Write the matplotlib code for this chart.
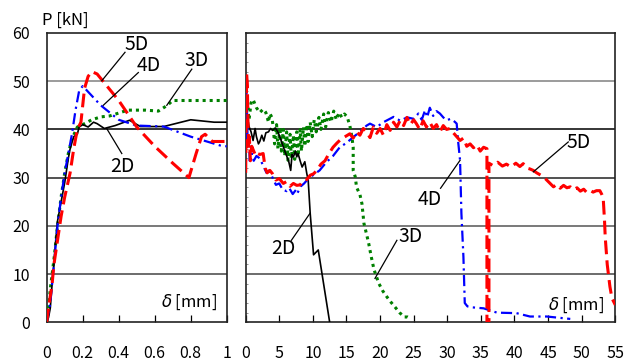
import numpy as np
import matplotlib.pyplot as plt
from matplotlib.ticker import MultipleLocator

plt.rcParams["font.family"] = ["Noto Sans CJK JP", "DejaVu Sans"]

################################################################################
# Data
################################################################################

# Left panel: initial part, delta 0 - 1 mm
x_2d_l = [0, 0.01, 0.02, 0.03, 0.04, 0.05, 0.06, 0.08, 0.10, 0.12, 0.13, 0.15, 0.17, 0.18, 0.20,
          0.23, 0.26, 0.28, 0.32, 0.38, 0.46, 0.52, 0.65, 0.80, 0.93, 1.0]
y_2d_l = [0, 1, 3, 8, 12, 17, 21, 25, 29, 34, 36, 38.5, 39, 40.5, 41,
          40.5, 41.5, 41.2, 40.2, 40.8, 41.9, 40.6, 40.6, 42, 41.5, 41.5]

x_3d_l = [0, 0.01, 0.02, 0.04, 0.06, 0.08, 0.10, 0.12, 0.14, 0.17, 0.20, 0.25, 0.30, 0.35,
          0.45, 0.55, 0.62, 0.67, 0.70, 1.0]
y_3d_l = [0, 3, 7, 13, 20, 26, 31, 35, 38, 40.5, 41, 42, 42.6, 42.8,
          44, 44, 43.8, 45, 46, 46]

x_4d_l = [0, 0.02, 0.04, 0.06, 0.08, 0.10, 0.12, 0.14, 0.16, 0.18, 0.20, 0.25, 0.30, 0.40,
          0.50, 0.65, 0.80, 0.97, 1.0]
y_4d_l = [0, 4, 12, 20, 26, 31, 35, 39, 44, 48, 49, 47, 45, 42,
          40.8, 40.6, 38.5, 36.6, 36.5]

x_5d_l = [0, 0.01, 0.03, 0.04, 0.06, 0.08, 0.10, 0.13, 0.15, 0.17, 0.19, 0.21, 0.23, 0.25,
          0.28, 0.40, 0.50, 0.60, 0.70, 0.79, 0.83, 0.86, 0.88, 0.92, 1.0]
y_5d_l = [0, 3, 8, 12, 17, 22, 26, 31, 36, 40, 41.5, 48.5, 51, 52,
          51.5, 46, 40.5, 36.5, 33, 30, 35, 38.5, 39, 37.5, 37.5]

# Right panel: full range, delta 0 - 55 mm
x_2d_r = [0, 0.4, 0.5, 0.8, 1.1, 1.4, 1.6, 1.9, 2.1, 2.4, 2.7, 3.0, 3.4, 3.7, 4.0, 4.4, 4.8,
          5.1, 5.4, 5.8, 6.1, 6.4, 6.7, 6.9, 7.1, 7.4, 7.6, 7.8, 8.1, 8.4, 8.8, 9.1, 9.3,
          9.6, 10.1, 10.8, 12.5]
y_2d_r = [42, 41.5, 40.6, 39.5, 37.7, 40.2, 38.5, 37.0, 37.5, 38.8, 37.6, 39.3, 39.5, 40.2,
          39.8, 40.3, 39.5, 38.4, 37.2, 35.6, 34.5, 33.4, 31.5, 34.8, 34.3, 35.5, 34.3, 35.0,
          33.5, 32.2, 33.3, 30.8, 29.5, 22.6, 14, 15, 0]

x_3d_r = [0, 0.2, 0.5, 0.8, 1.1, 1.6, 2.1, 2.6, 3.0, 3.4, 3.6, 3.9, 4.1, 4.3, 4.6, 4.8, 5.1,
          5.3, 5.6, 5.8, 6.1, 6.3, 6.6, 6.8, 7.1, 7.3, 7.6, 7.8, 8.1, 8.3, 8.6, 8.8, 9.1,
          9.3, 9.6, 9.9, 10.2, 10.5, 10.9, 11.2, 11.6, 11.9, 12.3, 12.7, 13.1, 13.5, 13.9,
          14.3, 14.7, 15.1, 15.5, 15.8, 16.0, 16.0, 16.3, 16.5, 17.0, 17.3, 17.6, 18.0,
          18.3, 18.7, 19.1, 19.8, 20.4, 21.0, 21.6, 22.2, 22.9, 23.6, 24.1, 24.5]
y_3d_r = [43, 46, 42, 45.5, 46.2, 44.5, 43.5, 44.2, 43.5, 41.5, 43.3, 42.5, 40.5, 37, 41,
          36, 40.5, 35.5, 40, 34.5, 39.5, 33.6, 39, 34, 38.8, 33.8, 39.5, 34.5, 40, 35.5,
          40.5, 36.5, 41, 37.5, 41.5, 38.5, 42, 39.5, 42.5, 40, 43.2, 40.5, 43.5, 41.5,
          43.8, 42, 43.5, 42.5, 43.2, 42.6, 40.8, 38.5, 36.3, 31.5, 30.2, 28.0, 26.5, 24.6,
          20.5, 18.2, 16.4, 13.5, 10.9, 8.1, 6.5, 5.3, 4.2, 3.2, 2.0, 1.1, 1.1, 0.8]

x_4d_r = [0, 0.1, 0.2, 0.3, 0.5, 0.6, 0.9, 1.2, 1.6, 2.1, 2.6, 3.1, 3.5, 4.0, 4.5, 5.0, 5.5,
          6.1, 6.5, 7.0, 7.5, 7.7, 8.2, 8.7, 9.2, 10, 11, 12, 13, 14, 15, 16, 17, 18, 18.5,
          19.5, 20.5, 22.0, 23.0, 24.0, 25.0, 25.7, 26.2, 26.7, 27.0, 27.4, 27.9, 28.4,
          28.9, 29.4, 29.9, 30.5, 31.1, 31.4, 31.6, 31.9, 32.1, 32.4, 32.6, 33.0, 33.7,
          35.4, 37.4, 40.3, 42.3, 44.8, 48.3]
y_4d_r = [37, 48, 44, 36.5, 38.5, 33.5, 35, 33.5, 34.5, 34.0, 32.5, 31.0, 31.5, 30, 28.5,
          28.8, 27.5, 27.2, 27.8, 26.6, 27.5, 26.8, 28.2, 28.8, 29.6, 30.5, 31.5, 33.2,
          34.5, 36.3, 37.2, 38.4, 39.5, 40.8, 41.2, 40.5, 41.5, 42.6, 41.8, 42.5, 42.2,
          43.3, 42.0, 44.0, 42.5, 44.5, 42.8, 43.8, 43.3, 42.5, 41.9, 42.2, 41.6, 41.2,
          37.7, 33.6, 22.6, 13.6, 4.0, 3.3, 3.1, 2.9, 2.0, 1.9, 1.2, 1.2, 0.7]

x_5d_r = [0, 0.1, 0.15, 0.25, 0.35, 0.45, 0.55, 0.7, 0.9, 1.2, 1.5, 1.8, 2.1, 2.6, 2.9, 3.2,
          3.6, 4.0, 4.5, 5.0, 5.6, 6.1, 6.6, 7.1, 7.6, 8.1, 8.6, 9.1, 9.6, 10.1, 10.6, 11.2,
          11.8, 12.4, 13.0, 13.6, 14.2, 14.8, 15.5, 16.0, 16.5, 17.0, 17.5, 18.0, 18.5,
          19.0, 19.5, 20.0, 20.5, 21.0, 21.5, 22.0, 22.5, 23.0, 23.5, 24.0, 24.5, 25.0,
          25.4, 25.9, 26.4, 26.9, 27.4, 27.9, 28.4, 28.9, 29.4, 29.9, 30.4, 30.9, 31.4,
          31.9, 32.4, 32.9, 33.4, 33.9, 34.4, 34.9, 35.4, 35.9, 35.9, 36.2, 36.2, 36.8,
          37.5, 38.2, 38.8, 39.5, 40.2, 40.8, 41.3, 41.8, 42.3, 42.8, 43.3, 43.8, 44.3,
          44.8, 45.3, 45.8, 46.3, 46.8, 47.3, 47.8, 48.3, 48.8, 49.3, 49.8, 50.3, 50.7,
          51.2, 51.7, 52.2, 52.7, 53.0, 53.2, 53.4, 53.5, 53.8, 54.2, 54.5, 55.0]
y_5d_r = [31, 45, 51.5, 49, 41, 36, 38.5, 33.5, 36.5, 35.5, 34.5, 35, 34.8, 35, 32.0, 31.0,
          31.5, 30.8, 29.5, 29.8, 28.8, 29.2, 28.2, 28.8, 28.4, 28.5, 29.5, 29.6, 30.5,
          30.8, 31.5, 32.8, 33.5, 35.0, 36.3, 37.2, 38.0, 38.5, 39.1, 38.2, 39.5, 38.8,
          40.2, 39.5, 38.3, 40.5, 39.2, 40.2, 38.8, 41.0, 39.8, 41.5, 40.5, 41.9, 40.8,
          42.5, 41.0, 42.0, 41.2, 40.0, 41.8, 40.5, 41.5, 40.2, 41.0, 39.5, 40.8, 40.0,
          40.2, 39.3, 38.5, 37.7, 38.2, 36.5, 37.0, 36.2, 36.8, 35.5, 36.3, 36.0, 0, 0, 33,
          32.5, 33.2, 32.4, 32.8, 32.2, 33.0, 32.3, 32.9, 32.0, 31.8, 31.5, 31.0, 30.6,
          30.2, 29.5, 28.8, 28.1, 28.6, 27.8, 28.4, 27.9, 28.1, 27.5, 27.9, 27.2, 27.6,
          27.0, 27.4, 27.0, 27.3, 27.3, 26.5, 25.8, 21, 17.7, 12, 7.4, 5, 3.6]

# Label text, text position, pointer start, pointer end
labels_l = [("5D", (0.50, 57.6), (0.435, 56.0), (0.306, 50.1)),
            ("4D", (0.565, 53.3), (0.509, 51.8), (0.314, 45.0)),
            ("3D", (0.83, 54.3), (0.806, 52.5), (0.667, 45.0)),
            ("2D", (0.42, 32.4), (0.417, 35.0), (0.333, 40.2))]
labels_r = [("2D", (5.55, 15.4), (6.8, 17.0), (9.57, 22.6)),
            ("3D", (24.5, 17.7), (22.5, 17.0), (19.24, 9.1)),
            ("4D", (27.4, 25.5), (29.0, 27.8), (31.9, 33.6)),
            ("5D", (49.6, 37.3), (48.0, 37.4), (42.8, 31.2))]

grid_y = [10, 20, 30, 40, 50]
grid_c = ["#444444", "#555555", "#222222", "#000000", "#808080"]

################################################################################
# Plotting
################################################################################

styles = {"2D": dict(color="black", linewidth=1.2, linestyle="-"),
          "3D": dict(color="#008000", linewidth=2.2, linestyle=(0, (1, 1.3))),
          "4D": dict(color="#0000ff", linewidth=1.6, linestyle=(0, (5, 2, 1, 2))),
          "5D": dict(color="#ff0000", linewidth=2.2, linestyle=(0, (4.5, 2)))}

fig = plt.figure(figsize=(6.34, 3.61), dpi=100)
ax_l = fig.add_axes([0.0737, 0.1072, 0.2839, 0.8014])
ax_r = fig.add_axes([0.3875, 0.1072, 0.5830, 0.8014])

for ax in (ax_l, ax_r):
    for yy, cc in zip(grid_y, grid_c):
        ax.axhline(yy, color=cc, linewidth=1.1, zorder=1)
    ax.set_ylim(0, 60)
    for sp in ax.spines.values():
        sp.set_linewidth(1.2)
        sp.set_color("#222222")
    ax.tick_params(axis="x", direction="in", length=5, width=0.9, pad=16, labelsize=11.5)

ax_l.plot(x_3d_l, y_3d_l, zorder=3, **styles["3D"])
ax_l.plot(x_2d_l, y_2d_l, zorder=4, **styles["2D"])
ax_l.plot(x_4d_l, y_4d_l, zorder=5, **styles["4D"])
ax_l.plot(x_5d_l, y_5d_l, zorder=6, **styles["5D"])

ax_r.plot(x_3d_r, y_3d_r, zorder=3, **styles["3D"])
ax_r.plot(x_2d_r, y_2d_r, zorder=4, **styles["2D"])
ax_r.plot(x_4d_r, y_4d_r, zorder=5, **styles["4D"])
ax_r.plot(x_5d_r, y_5d_r, zorder=6, **styles["5D"])

ax_l.set_xlim(0, 1)
ax_l.set_xticks([0, 0.2, 0.4, 0.6, 0.8, 1])
ax_l.set_xticklabels(["0", "0.2", "0.4", "0.6", "0.8", "1"])
ax_l.set_yticks([0, 10, 20, 30, 40, 50, 60])
ax_l.tick_params(axis="y", length=0, pad=12, labelsize=11.5)

ax_r.set_xlim(0, 55)
ax_r.set_xticks(np.arange(0, 56, 5))
ax_r.set_yticks([])
ax_r.yaxis.set_minor_locator(MultipleLocator(2))
ax_r.tick_params(axis="y", which="minor", direction="in", length=1.5, width=0.5,
                 color="#666666")

for ax, labs in ((ax_l, labels_l), (ax_r, labels_r)):
    for name, txt, p0, p1 in labs:
        ax.plot([p0[0], p1[0]], [p0[1], p1[1]], color="black", linewidth=0.9, zorder=7)
        ax.text(txt[0], txt[1], name, ha="center", va="center", fontsize=14, zorder=8)

ax_l.text(0.95, 0.07, r"$\delta$ [mm]", transform=ax_l.transAxes, ha="right", va="center",
          fontsize=12)
ax_r.text(0.97, 0.06, r"$\delta$ [mm]", transform=ax_r.transAxes, ha="right", va="center",
          fontsize=12)
fig.text(42 / 634, 1 - 20 / 361, "P [kN]", ha="left", va="center", fontsize=12)

fig.savefig("out.png", dpi=100)
plt.close()
